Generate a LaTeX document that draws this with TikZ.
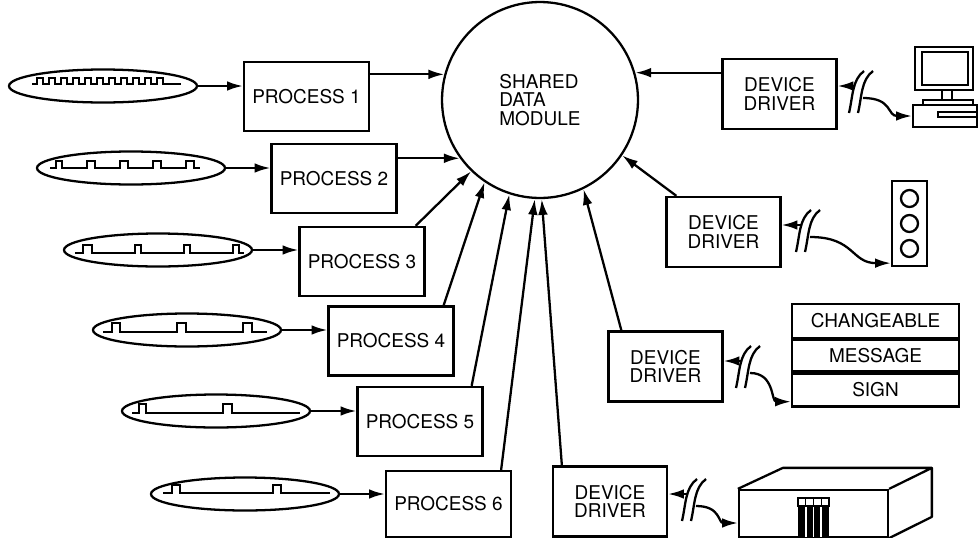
\documentclass[tikz,border=0pt]{standalone}
\usepackage{fontspec}
\setmainfont{TeX Gyre Heros}
\usetikzlibrary{shapes.geometric,arrows.meta,positioning}

\tikzset{
  txt/.style={font=\fontsize{10.8}{10.5}\selectfont},
  process/.style={draw, txt, minimum width=2.5cm, minimum height=1.38cm},
  driver/.style={draw, txt, align=center, minimum width=2.28cm, minimum height=1.4cm},
  signal/.style={draw, ellipse, minimum width=3.76cm, minimum height=0.66cm},
  signrow/.style={draw, txt, minimum width=3.34cm, inner sep=0pt},
  wave/.style={line width=1.1pt},
  brk/.pic={
    \draw (7,-21) .. controls (-5,-12) and (-4,4) .. (-8,21);
    \draw (16,-21) .. controls (4,-12) and (5,4) .. (1,21);
    \coordinate (-in) at (-2,-6);
    \coordinate (-out) at (6,6);
  }
}

\begin{document}
\begin{tikzpicture}[x=0.02cm, y=-0.02cm, line width=1.3pt, >={Latex[length=9pt,width=5.5pt]}]
  \useasboundingbox (0,0) rectangle (978,538);

  % shared module
  \node[draw, circle, txt, align=left, minimum size=3.92cm] (shared) at (540,100) {SHARED\\DATA\\MODULE};

  % input signals
  \node[signal] (sig1) at (103,86) {};
  \node[signal] (sig2) at (131,168) {};
  \node[signal] (sig3) at (158,250) {};
  \node[signal] (sig4) at (187,330) {};
  \node[signal] (sig5) at (216,411) {};
  \node[signal] (sig6) at (245,494) {};

  \draw[wave] (32,84) -- ++(5,0) foreach \i in {1,...,11} {-- ++(0,-6) -- ++(6,0) -- ++(0,6) -- ++(6,0)} -- ++(12,0);
  \draw[wave] (50,168) -- ++(6,0) -- ++(0,-7) -- ++(6,0) -- ++(0,7)
    foreach \i in {1,...,4} {-- ++(25,0) -- ++(0,-7) -- ++(8,0) -- ++(0,7)} -- ++(6,0);
  \draw[wave] (75,253) -- ++(8,0) -- ++(0,-8) -- ++(9,0) -- ++(0,8)
    foreach \i in {1,...,3} {-- ++(43,0) -- ++(0,-8) -- ++(6,0) -- ++(0,8)} -- ++(5,0);
  \draw[wave] (103,332) -- ++(9,0) -- ++(0,-9) -- ++(8,0) -- ++(0,9)
    foreach \i in {1,2} {-- ++(57,0) -- ++(0,-9) -- ++(9,0) -- ++(0,9)} -- ++(15,0);
  \draw[wave] (132,413) -- ++(7,0) -- ++(0,-9) -- ++(7,0) -- ++(0,9)
    -- ++(77,0) -- ++(0,-9) -- ++(9,0) -- ++(0,9) -- ++(68,0);
  \draw[wave] (163,493) -- ++(9,0) -- ++(0,-8) -- ++(8,0) -- ++(0,8)
    -- ++(93,0) -- ++(0,-8) -- ++(8,0) -- ++(0,8) -- ++(49,0);

  % processes
  \node[process] (p1) at (306.5,96.5) {PROCESS 1};
  \node[process] (p2) at (334,178.5) {PROCESS 2};
  \node[process] (p3) at (362,261.5) {PROCESS 3};
  \node[process] (p4) at (391,341) {PROCESS 4};
  \node[process] (p5) at (420,421.5) {PROCESS 5};
  \node[process, minimum height=1.32cm] (p6) at (448.5,504) {PROCESS 6};

  \draw[->] (sig1.east) -- (sig1.east -| p1.west);
  \draw[->] (sig2.east) -- (sig2.east -| p2.west);
  \draw[->] (sig3.east) -- (sig3.east -| p3.west);
  \draw[->] (sig4.east) -- (sig4.east -| p4.west);
  \draw[->] (sig5.east) -- (sig5.east -| p5.west);
  \draw[->] (sig6.east) -- (sig6.east -| p6.west);

  \draw[->] (p1.east |- shared.165) -- (shared.165);
  \draw[->] (p2.east |- shared.216) -- (shared.216);
  \draw[->] ([xshift=-0.2cm]p3.north east) -- (shared.226);
  \draw[->] ([xshift=-0.22cm]p4.north east) -- (shared.236);
  \draw[->] ([xshift=-0.24cm]p5.north east) -- (shared.252);
  \draw[->] ([xshift=-0.22cm]p6.north east) -- (shared.267);

  % device drivers
  \node[driver] (dd1) at (779.5,94) {DEVICE\\DRIVER};
  \node[driver] (dd2) at (723.5,232) {DEVICE\\DRIVER};
  \node[driver] (dd3) at (665.5,366.5) {DEVICE\\DRIVER};
  \node[driver] (dd4) at (610,501.5) {DEVICE\\DRIVER};

  \draw[->] (dd1.west |- shared.16) -- (shared.16);
  \draw[->] ([xshift=0.22cm]dd2.north west) -- (shared.326);
  \draw[->] ([xshift=0.28cm]dd3.north west) -- (shared.296);
  \draw[->] ([xshift=0.2cm]dd4.north west) -- (shared.271);

  % cable breaks
  \pic (b1) at (857,92) {brk};
  \pic (b2) at (804,231) {brk};
  \pic (b3) at (744,367) {brk};
  \pic (b4) at (690,500) {brk};
  \draw[->] (b1-in) -- (b1-in -| dd1.east);
  \draw[->] (b2-in) -- (b2-in -| dd2.east);
  \draw[->] (b3-in) -- (b3-in -| dd3.east);
  \draw[->] (b4-in) -- (b4-in -| dd4.east);

  % terminal
  \draw (915,47) rectangle (973,90);
  \draw (922,52) rectangle (968,85);
  \draw (942,90) rectangle (952,100);
  \draw (923,100) rectangle (973,105);
  \node[draw, minimum width=1.28cm, minimum height=0.44cm] (pcbase) at (945,116) {};
  \draw (938,112) rectangle (977,117);

  % signal lights
  \node[draw, minimum width=0.7cm, minimum height=1.7cm] (lights) at (909.5,223.5) {};
  \draw (lights.center) ++(0,-25) circle[radius=8.5]
        (lights.center) circle[radius=8.5]
        (lights.center) ++(0,25) circle[radius=8.5];

  % message sign
  \node[signrow, minimum height=0.68cm] (sign1) at (875.5,321) {CHANGEABLE};
  \node[signrow, minimum height=0.62cm, below=0pt of sign1] (sign2) {MESSAGE};
  \node[signrow, minimum height=0.66cm, below=0pt of sign2] (sign3) {SIGN};

  % controller cabinet
  \node[draw, minimum width=2.98cm, minimum height=0.94cm] (cabinet) at (813.5,513.5) {};
  \draw[line join=round] (cabinet.north west) -- ++(45,-21) -- ++(149,0) coordinate (cabtop) -- (cabinet.north east)
    (cabtop) -- ++(0,49) -- (cabinet.south east);
  \fill (798,506) rectangle (829,537);
  \draw[white, line width=0.8pt] (806,507) -- (806,537) (813.5,507) -- (813.5,537) (821,507) -- (821,537);
  \foreach \x in {798,805.75,813.5,821.25}
    \draw[line width=0.8pt] (\x,498) rectangle ++(7.75,8);

  % wires
  \draw[->] (b1-out) .. controls +(30,0) and +(-25,0) .. (pcbase.west);
  \draw[->] (b2-out) .. controls +(45,0) and +(-40,0) .. ([yshift=0.08cm]lights.south west);
  \draw[->] (b3-out) .. controls +(25,0) and +(-20,0) .. ([yshift=0.12cm]sign3.south west);
  \draw[->] (b4-out) .. controls +(25,0) and +(-20,0) .. ([yshift=-0.19cm]cabinet.west);
\end{tikzpicture}
\end{document}
